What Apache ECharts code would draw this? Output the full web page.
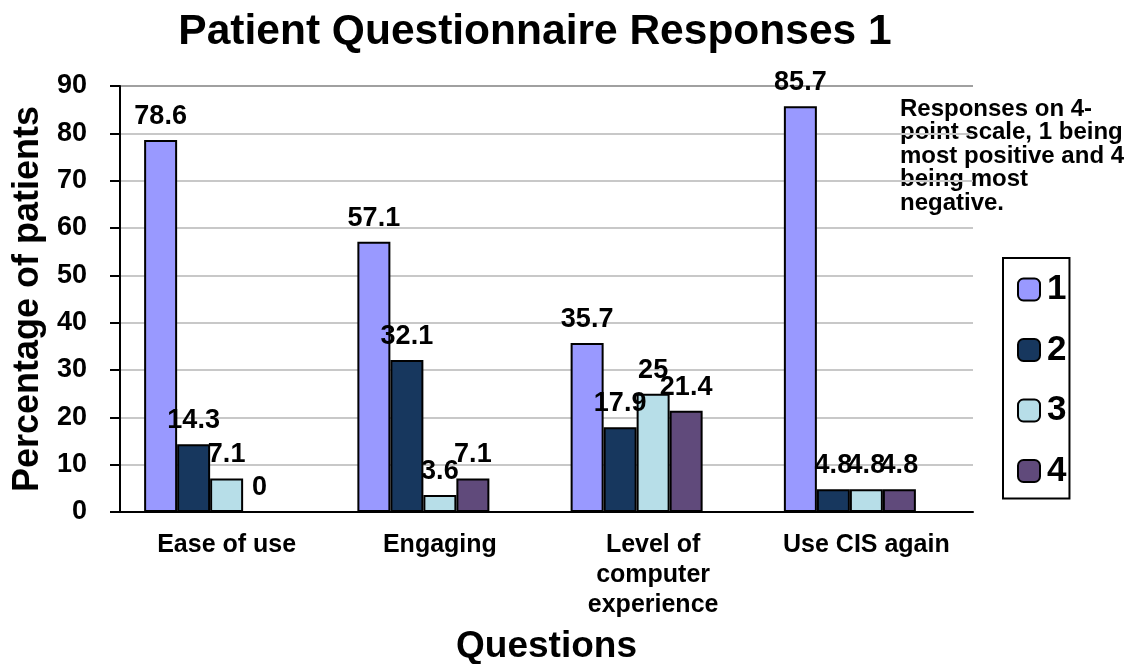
<!DOCTYPE html>
<html>
<head>
<meta charset="utf-8">
<script src="https://cdn.jsdelivr.net/npm/echarts@6/dist/echarts.min.js"></script>
<style>
	html, body { margin: 0; padding: 0; background: #fff; }
	#chart { width: 1138px; height: 664px; }
</style>
</head>
<body>
<div id="chart"></div>
<script>
var categories = ['Ease of use', 'Engaging', 'Level of\ncomputer\nexperience', 'Use CIS again'];
var seriesNames = ['1', '2', '3', '4'];
var resp1 = [78.6, 57.1, 35.7, 85.7];
var resp2 = [14.3, 32.1, 17.9, 4.8];
var resp3 = [7.1, 3.6, 25, 4.8];
var resp4 = [0, 7.1, 21.4, 4.8];
var colors = ['#9999ff', '#17375e', '#b7dee8', '#604a7b'];
var yTicks = { min: 0, max: 90, interval: 10 };
var noteText = 'Responses on 4-\npoint scale, 1 being\nmost positive and 4\nbeing most\nnegative.';

var font = '"Liberation Sans", Arial, sans-serif';

function barSeries(name, data, color) {
	return {
		name: name,
		type: 'bar',
		data: data,
		barWidth: 33,
		barGap: '0%',
		itemStyle: {
			color: color,
			borderColor: '#000',
			borderWidth: 2
		},
		label: {
			show: true,
			position: 'top',
			distance: 10,
			color: '#000',
			fontFamily: font,
			fontWeight: 'bold',
			fontSize: 27
		}
	};
}

var series = [
	barSeries(seriesNames[0], resp1, colors[0]),
	barSeries(seriesNames[1], resp2, colors[1]),
	barSeries(seriesNames[2], resp3, colors[2]),
	barSeries(seriesNames[3], resp4, colors[3]),
	// empty slot so each group sits left of its category centre, as in the original
	{ name: 'pad', type: 'bar', data: [null, null, null, null], barWidth: 33, barGap: '0%', silent: true }
];

var chart = echarts.init(document.getElementById('chart'));
chart.setOption({
	animation: false,
	textStyle: { fontFamily: font },
	title: {
		text: 'Patient Questionnaire Responses 1',
		left: 530,
		top: 6,
		textAlign: 'center',
		textStyle: { fontFamily: font, fontWeight: 'bold', fontSize: 42.5, color: '#000' }
	},
	grid: {
		left: 120,
		right: 165,
		top: 86,
		bottom: 152,
		outerBoundsMode: 'none'
	},
	legend: {
		data: seriesNames,
		orient: 'vertical',
		left: 1003,
		top: 258,
		padding: [14, 3, 10, 14],
		itemWidth: 22,
		itemHeight: 22,
		itemGap: 25.5,
		borderColor: '#000',
		borderWidth: 2,
		textStyle: { fontFamily: font, fontWeight: 'bold', fontSize: 35, color: '#000', padding: [0, 0, 0, 2] }
	},
	xAxis: {
		type: 'category',
		data: categories,
		name: 'Questions',
		nameLocation: 'middle',
		nameGap: 116,
		nameTextStyle: { fontFamily: font, fontWeight: 'bold', fontSize: 37, color: '#000' },
		axisLine: { lineStyle: { color: '#000', width: 2 } },
		axisTick: { show: false },
		axisLabel: {
			interval: 0,
			margin: 18,
			color: '#000',
			fontFamily: font,
			fontWeight: 'bold',
			fontSize: 25,
			lineHeight: 30
		}
	},
	yAxis: {
		type: 'value',
		min: yTicks.min,
		max: yTicks.max,
		interval: yTicks.interval,
		name: 'Percentage of patients',
		nameLocation: 'middle',
		nameGap: 72,
		nameTextStyle: { fontFamily: font, fontWeight: 'bold', fontSize: 36, color: '#000' },
		axisLine: { show: true, lineStyle: { color: '#000', width: 2 } },
		axisTick: { show: true, length: 10, lineStyle: { color: '#000', width: 2 } },
		axisLabel: {
			margin: 33,
			color: '#000',
			fontFamily: font,
			fontWeight: 'bold',
			fontSize: 27
		},
		splitLine: {
			lineStyle: { color: ['#c8c8c8', '#c8c8c8', '#c8c8c8', '#c8c8c8', '#c8c8c8', '#c8c8c8', '#c8c8c8', '#c8c8c8', '#c8c8c8', '#a0a0a0'], width: 2 }
		}
	},
	graphic: [{
		type: 'text',
		left: 900,
		top: 97,
		style: {
			text: noteText,
			fontFamily: font,
			fontWeight: 'bold',
			fontSize: 24,
			lineHeight: 23.5,
			fill: '#000'
		}
	}],
	series: series
});
</script>
</body>
</html>
